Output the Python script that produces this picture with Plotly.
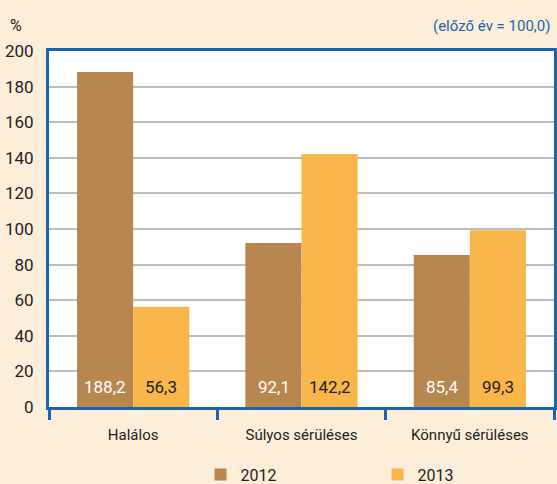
import plotly.graph_objects as go

categories = ["Halálos", "Súlyos sérüléses", "Könnyű sérüléses"]
years = ["2012", "2013"]
values_2012 = [188.2, 92.1, 85.4]
values_2013 = [56.3, 142.2, 99.3]
y_ticks = [0, 20, 40, 60, 80, 100, 120, 140, 160, 180, 200]

FONT = "Roboto, Liberation Sans Narrow, sans-serif"
C2012 = "#B8864F"
C2013 = "#F9B74B"
BLUE = "#1B64B0"
TXT = "#231F20"

def F(size, color=TXT):
    return dict(family=FONT, size=size, color=color)

fig = go.Figure()
for name, vals, col in [(years[0], values_2012, C2012), (years[1], values_2013, C2013)]:
    fig.add_trace(go.Bar(name=name, x=categories, y=vals, marker=dict(color=col, line=dict(width=0))))

def fmt(v):
    return f"{v:.1f}".replace(".", ",")

for i, c in enumerate(categories):
    fig.add_annotation(x=c, y=12, xref="x", yref="y", text=fmt(values_2012[i]), showarrow=False,
                       xshift=-28, yshift=-1, font=F(17, "white"))
    fig.add_annotation(x=c, y=12, xref="x", yref="y", text=fmt(values_2013[i]), showarrow=False,
                       xshift=28, yshift=-1, font=F(17))

fig.add_shape(type="line", xref="paper", yref="y", x0=0, x1=1, y0=100, y1=100,
              line=dict(color="#3a3a3a", width=2), layer="below")

fig.add_annotation(xref="paper", yref="paper", x=-0.065, y=1.04, xanchor="center", yanchor="bottom",
                   text="%", showarrow=False, font=F(16))
fig.add_annotation(xref="paper", yref="paper", x=0.997, y=1.04, xanchor="right", yanchor="bottom",
                   text="(előző év = 100,0)", showarrow=False, font=F(15, BLUE))

fig.update_layout(
    width=557, height=484,
    margin=dict(l=49, r=3, t=51, b=77, autoexpand=False),
    paper_bgcolor="#FDEEDA",
    plot_bgcolor="white",
    barmode="group",
    bargap=0.333,
    bargroupgap=0,
    font=F(15),
    showlegend=True,
    legend=dict(orientation="h", x=0.3, xanchor="left", y=-0.19, yanchor="middle",
                entrywidth=132, entrywidthmode="pixels", bgcolor="rgba(0,0,0,0)",
                font=F(16)),
    xaxis=dict(showline=True, linecolor=BLUE, linewidth=3, mirror=True, automargin=False,
               ticks="outside", tickson="boundaries", ticklen=10, tickwidth=3, tickcolor=BLUE,
               ticklabelstandoff=12, showgrid=False, tickfont=F(15)),
    yaxis=dict(range=[0, 200], tickvals=y_ticks, showline=True, linecolor=BLUE, linewidth=3, mirror=True,
               automargin=False, ticks="", showgrid=True, gridcolor="#BDBDBD", gridwidth=1.5, zeroline=False,
               ticklabelstandoff=9, tickfont=F(17)),
)

fig.write_html("out.html", config={"displayModeBar": False},
               post_script="document.body.style.margin='0';")
